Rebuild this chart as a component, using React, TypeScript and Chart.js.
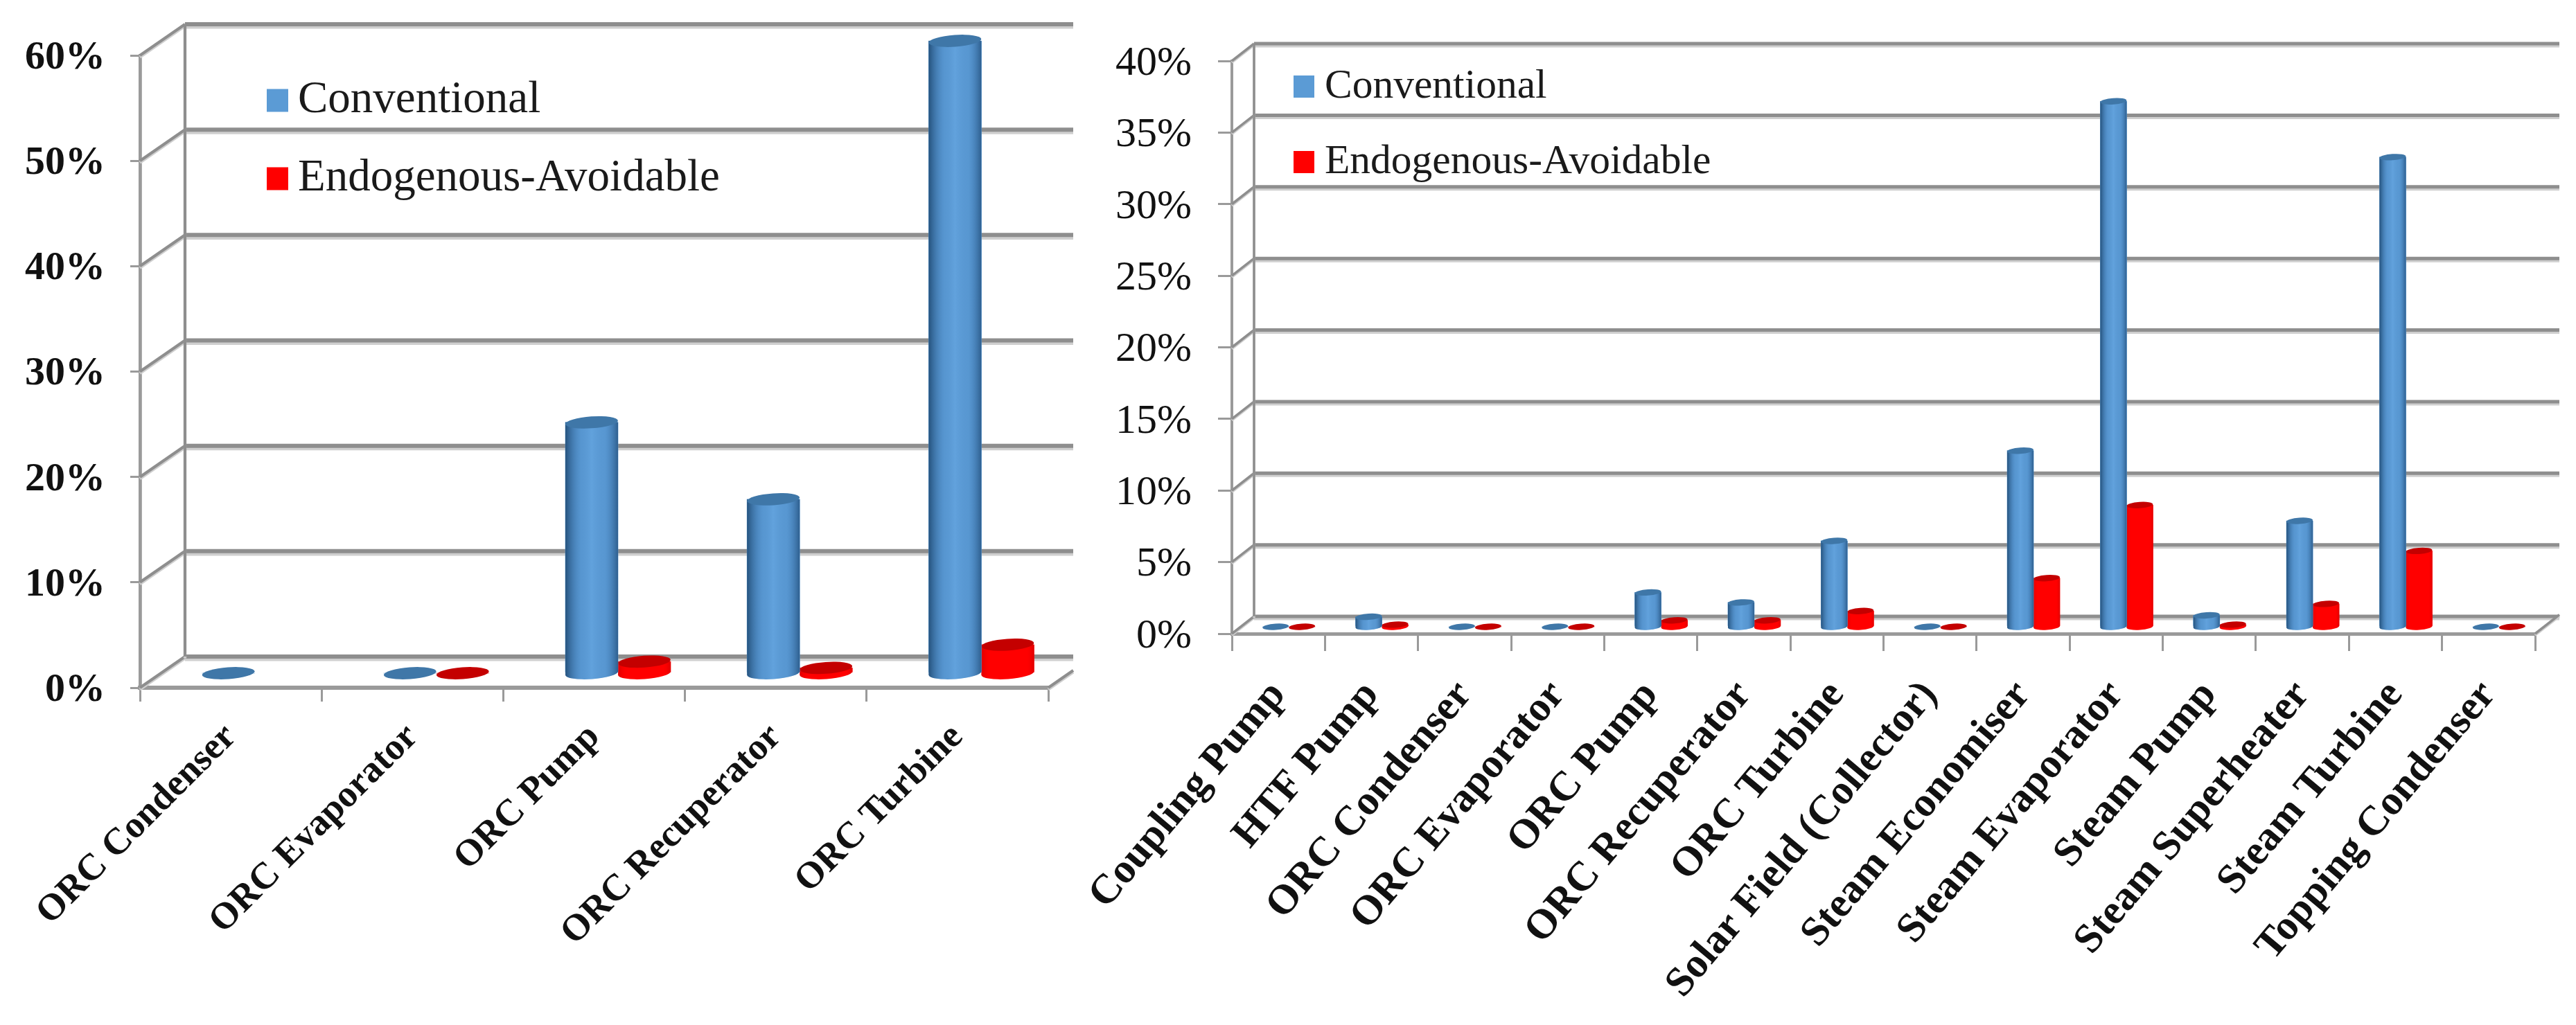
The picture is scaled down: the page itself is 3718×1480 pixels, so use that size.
import React, { useEffect, useRef } from "react";
import { Chart, registerables } from "chart.js";

Chart.register(...registerables);

const leftCategories = ["ORC Condenser", "ORC Evaporator", "ORC Pump", "ORC Recuperator", "ORC Turbine"];
const leftConventional = [0, 0, 23.8, 16.5, 60];
const leftEndogenous = [null, 0, 1.1, 0.5, 2.7];

const rightCategories = [
  "Coupling Pump", "HTF Pump", "ORC Condenser", "ORC Evaporator", "ORC Pump", "ORC Recuperator", "ORC Turbine",
  "Solar Field (Collector)", "Steam Economiser", "Steam Evaporator", "Steam Pump", "Steam Superheater",
  "Steam Turbine", "Topping Condenser",
];
const rightConventional = [0, 0.7, 0, 0, 2.4, 1.7, 6.0, 0, 12.3, 36.7, 0.8, 7.4, 32.8, 0];
const rightEndogenous = [0, 0.15, 0, 0, 0.45, 0.45, 1.1, 0, 3.4, 8.5, 0.15, 1.6, 5.3, 0];

const seriesNames = ["Conventional", "Endogenous-Avoidable"];
const SERIF = '"Liberation Serif", serif';

type Cfg = {
  left: number; width: number; height: number;
  area: { l: number; r: number; t: number; b: number };
  back: { dx: number; dy: number; xEnd: number };
  plane: { dx: number; dy: number };
  barW: number; ry: number;
  max: number; step: number;
  tickFont: any; catFont: any; rot: number; tickPad: number; yTick: number; xTick: number; catPad: number;
  legend: { box: number[]; text: number; ys: number[]; boxH: number; font: string };
  lw: number;
};

function ellipse(ctx: any, x: number, y: number, rx: number, ry: number, color: string) {
  ctx.beginPath();
  ctx.ellipse(x, y, rx, ry, (-4 * Math.PI) / 180, 0, Math.PI * 2);
  ctx.fillStyle = color;
  ctx.fill();
}

function gridLine(ctx: any, x1: number, y1: number, x2: number, y2: number, lw: number) {
  ctx.strokeStyle = "#cfcfcf";
  ctx.lineWidth = lw;
  ctx.beginPath();
  ctx.moveTo(x1, y1 + lw * 0.6);
  ctx.lineTo(x2, y2 + lw * 0.6);
  ctx.stroke();
  ctx.strokeStyle = "#8e8e8e";
  ctx.beginPath();
  ctx.moveTo(x1, y1);
  ctx.lineTo(x2, y2);
  ctx.stroke();
}

function makePlugin(cfg: Cfg) {
  return {
    id: "cyl3d",
    beforeDatasetsDraw(chart: any) {
      const { ctx, scales, chartArea } = chart;
      const y = scales.y;
      const bx = chartArea.left + cfg.back.dx;
      ctx.save();
      y.ticks.forEach((t: any) => {
        const py = y.getPixelForValue(t.value);
        gridLine(ctx, bx, py + cfg.back.dy, cfg.back.xEnd, py + cfg.back.dy, cfg.lw);
        gridLine(ctx, chartArea.left, py, bx, py + cfg.back.dy, cfg.lw * 0.7);
      });
      const top = y.getPixelForValue(cfg.max) + cfg.back.dy;
      const bot = y.getPixelForValue(0) + cfg.back.dy;
      gridLine(ctx, bx, top, bx, bot, cfg.lw * 0.7);
      const py0 = y.getPixelForValue(0);
      const rdx = cfg.back.xEnd - chartArea.right;
      gridLine(ctx, chartArea.right, py0, cfg.back.xEnd, py0 + (cfg.back.dy * rdx) / cfg.back.dx, cfg.lw * 0.7);
      ctx.restore();

      // legend
      ctx.save();
      const L = cfg.legend;
      seriesNames.forEach((name, i) => {
        const meta = chart.getDatasetMeta(i);
        const c = i === 0 ? "#5b9bd5" : "#ff0000";
        ctx.fillStyle = c;
        ctx.fillRect(L.box[0], L.ys[i] - L.boxH / 2, L.box[1], L.boxH);
        ctx.fillStyle = "#1a1a1a";
        ctx.font = L.font;
        ctx.textAlign = "left";
        ctx.textBaseline = "middle";
        ctx.fillText(chart.data.datasets[meta.index].label || name, L.text, L.ys[i]);
      });
      ctx.restore();

      ctx.save();
      ctx.translate(cfg.plane.dx, cfg.plane.dy);
    },
    afterDatasetDraw(chart: any, args: any) {
      const { ctx, scales } = chart;
      const isBlue = args.index === 0;
      const base = isBlue ? "#5b9bd5" : "#ff0000";
      const cap = isBlue ? "#3f77a8" : "#c40000";
      const y0 = scales.y.getPixelForValue(0);
      args.meta.data.forEach((el: any, i: number) => {
        const v = chart.data.datasets[args.index].data[i];
        if (v === null || v === undefined) return;
        const rx = cfg.barW / 2;
        const ry = cfg.ry;
        const left = el.x - rx;
        if (v > 0) {
          ctx.save();
          ctx.beginPath();
          ctx.moveTo(left, el.y);
          ctx.lineTo(left + cfg.barW, el.y);
          ctx.lineTo(left + cfg.barW, y0);
          ctx.ellipse(el.x, y0, rx, ry, (-4 * Math.PI) / 180, 0, Math.PI);
          ctx.closePath();
          ctx.fillStyle = base;
          ctx.fill();
          const g = ctx.createLinearGradient(left, 0, left + cfg.barW, 0);
          if (isBlue) {
            g.addColorStop(0, "rgba(28,70,110,0.85)");
            g.addColorStop(0.3, "rgba(70,130,190,0.2)");
            g.addColorStop(0.5, "rgba(110,175,235,0.35)");
            g.addColorStop(0.75, "rgba(70,130,190,0.15)");
            g.addColorStop(1, "rgba(35,80,125,0.8)");
          } else {
            g.addColorStop(0, "rgba(190,0,0,0.5)");
            g.addColorStop(0.18, "rgba(255,0,0,0)");
            g.addColorStop(0.85, "rgba(255,0,0,0)");
            g.addColorStop(1, "rgba(190,0,0,0.5)");
          }
          ctx.fillStyle = g;
          ctx.fill();
          ctx.restore();
        }
        ellipse(ctx, el.x, el.y, rx, ry, cap);
      });
    },
    afterDatasetsDraw(chart: any) {
      chart.ctx.restore();
    },
  };
}

function buildChart(canvas: HTMLCanvasElement, cfg: Cfg, labels: string[], a: any[], b: any[]) {
  return new Chart(canvas, {
    type: "bar",
    data: {
      labels,
      datasets: [
        { label: seriesNames[0], data: a, backgroundColor: "#5b9bd5", barThickness: cfg.barW, clip: false },
        { label: seriesNames[1], data: b, backgroundColor: "#ff0000", barThickness: cfg.barW, clip: false },
      ],
    } as any,
    plugins: [makePlugin(cfg)],
    options: {
      animation: false,
      responsive: false,
      devicePixelRatio: 1,
      layout: { padding: { top: cfg.area.t, right: cfg.width - cfg.area.r, left: 0, bottom: 0 } },
      plugins: { legend: { display: false }, tooltip: { enabled: false } },
      scales: {
        x: {
          offset: true,
          border: { display: true, color: "#9a9a9a", width: cfg.lw },
          grid: { drawOnChartArea: false, drawTicks: true, tickLength: cfg.xTick, color: "#9a9a9a", lineWidth: 3 },
          ticks: {
            autoSkip: false, minRotation: cfg.rot, maxRotation: cfg.rot, font: cfg.catFont, color: "#111111", padding: cfg.catPad,
          },
          afterFit: (s: any) => {
            s.height = cfg.height - cfg.area.b;
            s.paddingLeft = 0;
            s.paddingRight = 0;
          },
        },
        y: {
          min: 0, max: cfg.max,
          border: { display: true, color: "#9a9a9a", width: cfg.lw * 0.8 },
          grid: { drawOnChartArea: false, drawTicks: true, tickLength: cfg.yTick, color: "#9a9a9a", lineWidth: 3 },
          ticks: {
            stepSize: cfg.step, font: cfg.tickFont, color: "#111111", padding: cfg.tickPad, labelOffset: 4,
            callback: (v: any) => `${v}%`,
          },
          afterFit: (s: any) => { s.width = cfg.area.l; s.paddingTop = 0; s.paddingBottom = 0; },
        },
      },
    } as any,
  });
}

const leftCfg: Cfg = {
  left: 0, width: 1560, height: 1480,
  area: { l: 202, r: 1513, t: 80, b: 993 },
  back: { dx: 65, dy: -45, xEnd: 1549 },
  plane: { dx: 34.5, dy: -21 },
  barW: 76, ry: 8.5, max: 60, step: 10,
  tickFont: { family: SERIF, size: 58, weight: "bold" },
  catFont: { family: SERIF, size: 54, weight: "bold" },
  rot: 45, tickPad: 36, yTick: 14, xTick: 20, catPad: 20,
  legend: { box: [385, 31], text: 430, ys: [145, 258], boxH: 33, font: `65px ${SERIF}` },
  lw: 6,
};

const rightCfg: Cfg = {
  left: 1560, width: 2158, height: 1480,
  area: { l: 218, r: 2099, t: 88, b: 915 },
  back: { dx: 32, dy: -25, xEnd: 2134 },
  plane: { dx: 15, dy: -10 },
  barW: 38, ry: 4.5, max: 40, step: 5,
  tickFont: { family: SERIF, size: 60, weight: "normal" },
  catFont: { family: SERIF, size: 60, weight: "bold" },
  rot: 50, tickPad: 38, yTick: 20, xTick: 25, catPad: 30,
  legend: { box: [307, 30], text: 352, ys: [125, 234], boxH: 32, font: `59.5px ${SERIF}` },
  lw: 5,
};

export default function App() {
  const leftRef = useRef<HTMLCanvasElement>(null);
  const rightRef = useRef<HTMLCanvasElement>(null);
  useEffect(() => {
    document.body.style.margin = "0";
    document.body.style.background = "#ffffff";
    const c1 = buildChart(leftRef.current!, leftCfg, leftCategories, leftConventional, leftEndogenous);
    const c2 = buildChart(rightRef.current!, rightCfg, rightCategories, rightConventional, rightEndogenous);
    return () => { c1.destroy(); c2.destroy(); };
  }, []);
  return (
    <div style={{ position: "relative", width: 3718, height: 1480, overflow: "hidden", background: "#fff" }}>
      <canvas ref={leftRef} width={leftCfg.width} height={leftCfg.height}
        style={{ position: "absolute", left: leftCfg.left, top: 0, width: leftCfg.width, height: leftCfg.height }} />
      <canvas ref={rightRef} width={rightCfg.width} height={rightCfg.height}
        style={{ position: "absolute", left: rightCfg.left, top: 0, width: rightCfg.width, height: rightCfg.height }} />
    </div>
  );
}
